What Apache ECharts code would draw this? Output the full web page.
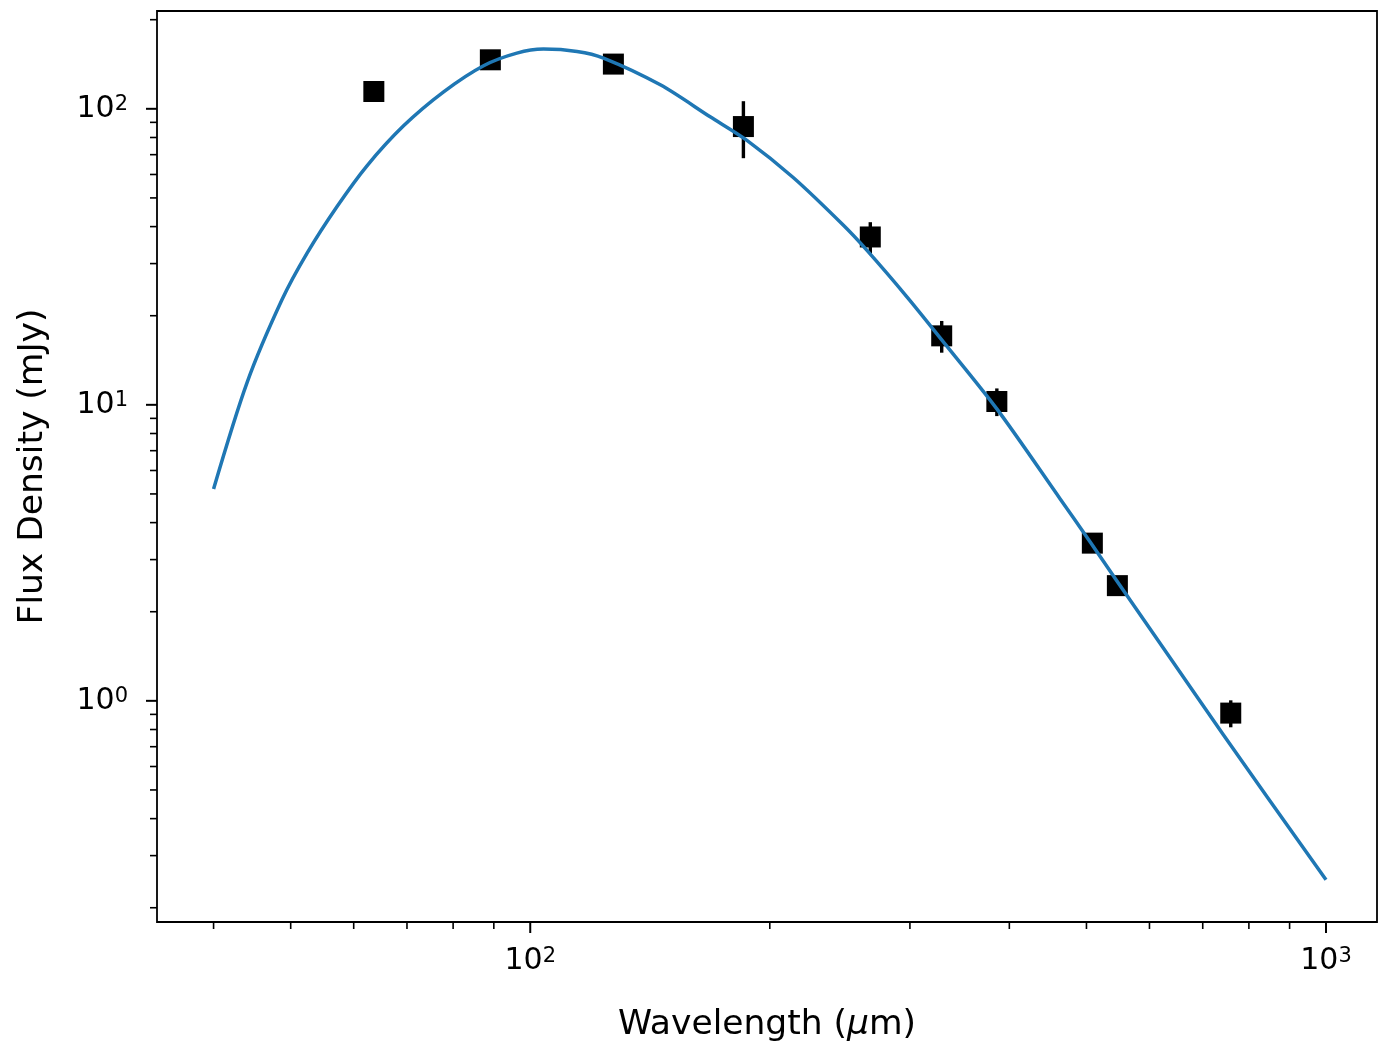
<!DOCTYPE html>
<html>
<head>
<meta charset="utf-8">
<script src="https://cdn.jsdelivr.net/npm/echarts@6/dist/echarts.min.js"></script>
<style>
  html, body { margin: 0; padding: 0; background: #fff; }
  #chart { width: 1380px; height: 1048px; }
</style>
</head>
<body>
<div id="chart"></div>
<script>
// Photometry: wavelength (um), flux density (mJy), 1-sigma error (mJy)
const wavelengths = [63.6, 89.1, 127.2, 185.3, 267.5, 328.9, 385.8, 508.6, 546.8, 759.1];
const fluxes      = [114.4, 146.4, 141.6, 87.1, 36.9, 17.1, 10.26, 3.41, 2.45, 0.909];
const fluxErrors  = [6, 7, 7, 19, 4.5, 2.1, 1.1, 0.15, 0.12, 0.095];

// Fitted SED model sampled along the wavelength axis
const modelWavelengths = [40, 44.07, 48.75, 52.43, 57.18, 62.35, 69.31, 77.83, 87.37, 96.2,
  103.9, 114.5, 123.6, 145.7, 168.3, 187.2, 214.2, 247.5, 264.8, 297.4,
  327.4, 385.8, 463.4, 505.2, 545.8, 636.8, 743, 1000];
const modelFluxes = [5.20, 11.89, 22.63, 32.54, 46.77, 64.2, 87.6, 114.1, 139.8, 154.2,
  159.1, 156.2, 148.4, 120.5, 93.97, 78.26, 58.47, 40.4, 33.3, 23.17,
  16.84, 9.69, 4.81, 3.445, 2.544, 1.398, 0.7675, 0.2485];

// Axis limits and tick positions
const xLimits = [33.96, 1159];
const yLimits = [0.179, 214];
const xMajorTicks = [100, 1000];
const xMinorTicks = [40, 50, 60, 70, 80, 90, 200, 300, 400, 500, 600, 700, 800, 900];
const yMajorTicks = [1, 10, 100];
const yMinorTicks = [0.2, 0.3, 0.4, 0.5, 0.6, 0.7, 0.8, 0.9,
  2, 3, 4, 5, 6, 7, 8, 9, 20, 30, 40, 50, 60, 70, 80, 90, 200];

const FONT = 'DejaVu Sans';

// Tick marks: [x, y, isMajor, isYAxis]
const tickData = [];
xMajorTicks.forEach(v => tickData.push([v, yLimits[0], 1, 0]));
xMinorTicks.forEach(v => tickData.push([v, yLimits[0], 0, 0]));
yMajorTicks.forEach(v => tickData.push([xLimits[0], v, 1, 1]));
yMinorTicks.forEach(v => tickData.push([xLimits[0], v, 0, 1]));

const powerLabel = v => {
  const lg = Math.log10(v);
  const e = Math.round(lg);
  return Math.abs(lg - e) < 1e-6 ? '{b|10}{s|' + e + '}' : '';
};
const labelRich = {
  b: { fontFamily: FONT, fontSize: 30, lineHeight: 30, color: '#000', padding: [9, 0, 0, 0], verticalAlign: 'bottom' },
  s: { fontFamily: FONT, fontSize: 21, lineHeight: 21, color: '#000', verticalAlign: 'top' }
};

const chart = echarts.init(document.getElementById('chart'), null, { renderer: 'canvas' });
chart.setOption({
  animation: false,
  backgroundColor: '#fff',
  grid: {
    left: 157, right: 3, top: 11, bottom: 126,
    show: true, borderColor: '#000', borderWidth: 1.8, backgroundColor: 'transparent'
  },
  xAxis: {
    type: 'log', logBase: 10, min: xLimits[0], max: xLimits[1],
    axisLine: { show: false }, axisTick: { show: false }, splitLine: { show: false },
    axisLabel: { formatter: powerLabel, margin: 24, rich: labelRich, showMinLabel: true, showMaxLabel: true },
    name: '{n|Wavelength (}{i|μ}{n|m)}',
    nameLocation: 'middle', nameGap: 86,
    nameTextStyle: {
      rich: {
        n: { fontFamily: FONT, fontSize: 34.5, color: '#000' },
        i: { fontFamily: FONT, fontSize: 34.5, fontStyle: 'italic', color: '#000' }
      }
    }
  },
  yAxis: {
    type: 'log', logBase: 10, min: yLimits[0], max: yLimits[1],
    axisLine: { show: false }, axisTick: { show: false }, splitLine: { show: false },
    axisLabel: { formatter: powerLabel, margin: 29, rich: labelRich },
    name: 'Flux Density (mJy)',
    nameLocation: 'middle', nameGap: 106,
    nameTextStyle: { fontFamily: FONT, fontSize: 34.5, color: '#000' }
  },
  series: [
    {
      // error bars
      type: 'custom',
      z: 2,
      silent: true,
      encode: { x: 0, y: [1, 2] },
      data: wavelengths.map((w, i) => [w, fluxes[i] - fluxErrors[i], fluxes[i] + fluxErrors[i]]),
      renderItem: (params, api) => {
        const lo = api.coord([api.value(0), api.value(1)]);
        const hi = api.coord([api.value(0), api.value(2)]);
        return {
          type: 'line',
          shape: { x1: lo[0], y1: lo[1], x2: hi[0], y2: hi[1] },
          style: { stroke: '#000', lineWidth: 3.4 }
        };
      }
    },
    {
      type: 'scatter',
      z: 3,
      symbol: 'rect',
      symbolSize: 21,
      itemStyle: { color: '#000', opacity: 1 },
      data: wavelengths.map((w, i) => [w, fluxes[i]])
    },
    {
      type: 'line',
      z: 4,
      showSymbol: false,
      smooth: 0.3,
      lineStyle: { color: '#1f77b4', width: 3.5, cap: 'butt', join: 'round' },
      data: modelWavelengths.map((w, i) => [w, modelFluxes[i]])
    },
    {
      // axis tick marks
      type: 'custom',
      z: 5,
      silent: true,
      clip: false,
      data: tickData,
      renderItem: (params, api) => {
        const p = api.coord([api.value(0), api.value(1)]);
        const major = api.value(2) === 1;
        const len = major ? 11 : 7;
        const onY = api.value(3) === 1;
        const shape = onY
          ? { x1: p[0], y1: p[1], x2: p[0] - len, y2: p[1] }
          : { x1: p[0], y1: p[1], x2: p[0], y2: p[1] + len };
        return { type: 'line', shape: shape, style: { stroke: '#000', lineWidth: major ? 2 : 1.6 } };
      }
    }
  ]
});
</script>
</body>
</html>
